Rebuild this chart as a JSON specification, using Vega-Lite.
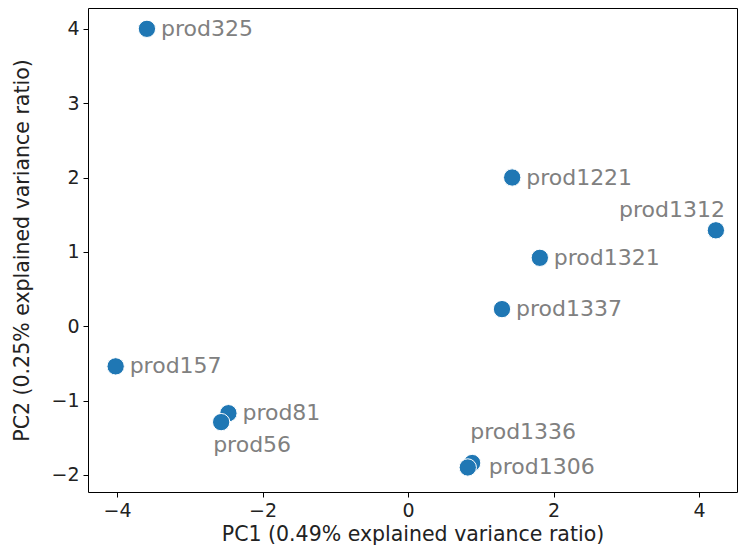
{
  "$schema": "https://vega.github.io/schema/vega-lite/v6.json",
  "width": 649,
  "height": 484,
  "autosize": {"type": "none"},
  "padding": {"left": 88, "top": 8, "right": 2, "bottom": 60},
  "background": "white",
  "config": {
    "view": {"stroke": "black", "strokeWidth": 1},
    "font": "DejaVu Sans",
    "axis": {
      "grid": false,
      "domain": false,
      "tickColor": "black",
      "tickSize": 5,
      "labelFontSize": 19,
      "labelColor": "#222222",
      "titleFontSize": 20.5,
      "titleFontWeight": "normal",
      "titleColor": "#222222",
      "labelPadding": 4
    }
  },
  "data": {
    "values": [
      {"name": "prod325", "PC1": -3.59, "PC2": 4.0},
      {"name": "prod1221", "PC1": 1.43, "PC2": 2.0},
      {"name": "prod1312", "PC1": 4.23, "PC2": 1.29},
      {"name": "prod1321", "PC1": 1.81, "PC2": 0.92},
      {"name": "prod1337", "PC1": 1.29, "PC2": 0.23},
      {"name": "prod157", "PC1": -4.02, "PC2": -0.54},
      {"name": "prod81", "PC1": -2.47, "PC2": -1.17},
      {"name": "prod56", "PC1": -2.57, "PC2": -1.29},
      {"name": "prod1336", "PC1": 0.88, "PC2": -1.84},
      {"name": "prod1306", "PC1": 0.82, "PC2": -1.9}
    ]
  },
  "encoding": {
    "x": {
      "field": "PC1", "type": "quantitative",
      "scale": {"domain": [-4.4, 4.52], "nice": false, "zero": false},
      "axis": {"values": [-4, -2, 0, 2, 4], "title": "PC1 (0.49% explained variance ratio)", "titlePadding": 4}
    },
    "y": {
      "field": "PC2", "type": "quantitative",
      "scale": {"domain": [-2.23, 4.28], "nice": false, "zero": false},
      "axis": {"values": [-2, -1, 0, 1, 2, 3, 4], "title": "PC2 (0.25% explained variance ratio)", "titlePadding": 18}
    }
  },
  "layer": [
    {
      "mark": {"type": "circle", "size": 300, "color": "#1f77b4", "opacity": 1, "stroke": "white", "strokeWidth": 1}
    },
    {
      "transform": [{"filter": {"field": "name", "oneOf": ["prod325", "prod1221", "prod1321", "prod1337", "prod157", "prod81"]}}],
      "mark": {"type": "text", "align": "left", "baseline": "middle", "dx": 14, "fontSize": 22, "color": "#808080"},
      "encoding": {"text": {"field": "name"}}
    },
    {
      "transform": [{"filter": {"field": "name", "equal": "prod1306"}}],
      "mark": {"type": "text", "align": "left", "baseline": "middle", "dx": 21, "fontSize": 22, "color": "#808080"},
      "encoding": {"text": {"field": "name"}}
    },
    {
      "transform": [{"filter": {"field": "name", "equal": "prod1312"}}],
      "mark": {"type": "text", "align": "right", "baseline": "middle", "dx": 9, "dy": -20, "fontSize": 22, "color": "#808080"},
      "encoding": {"text": {"field": "name"}}
    },
    {
      "transform": [{"filter": {"field": "name", "equal": "prod1336"}}],
      "mark": {"type": "text", "align": "left", "baseline": "middle", "dx": -2, "dy": -31, "fontSize": 22, "color": "#808080"},
      "encoding": {"text": {"field": "name"}}
    },
    {
      "transform": [{"filter": {"field": "name", "equal": "prod56"}}],
      "mark": {"type": "text", "align": "left", "baseline": "middle", "dx": -8, "dy": 23, "fontSize": 22, "color": "#808080"},
      "encoding": {"text": {"field": "name"}}
    }
  ]
}
